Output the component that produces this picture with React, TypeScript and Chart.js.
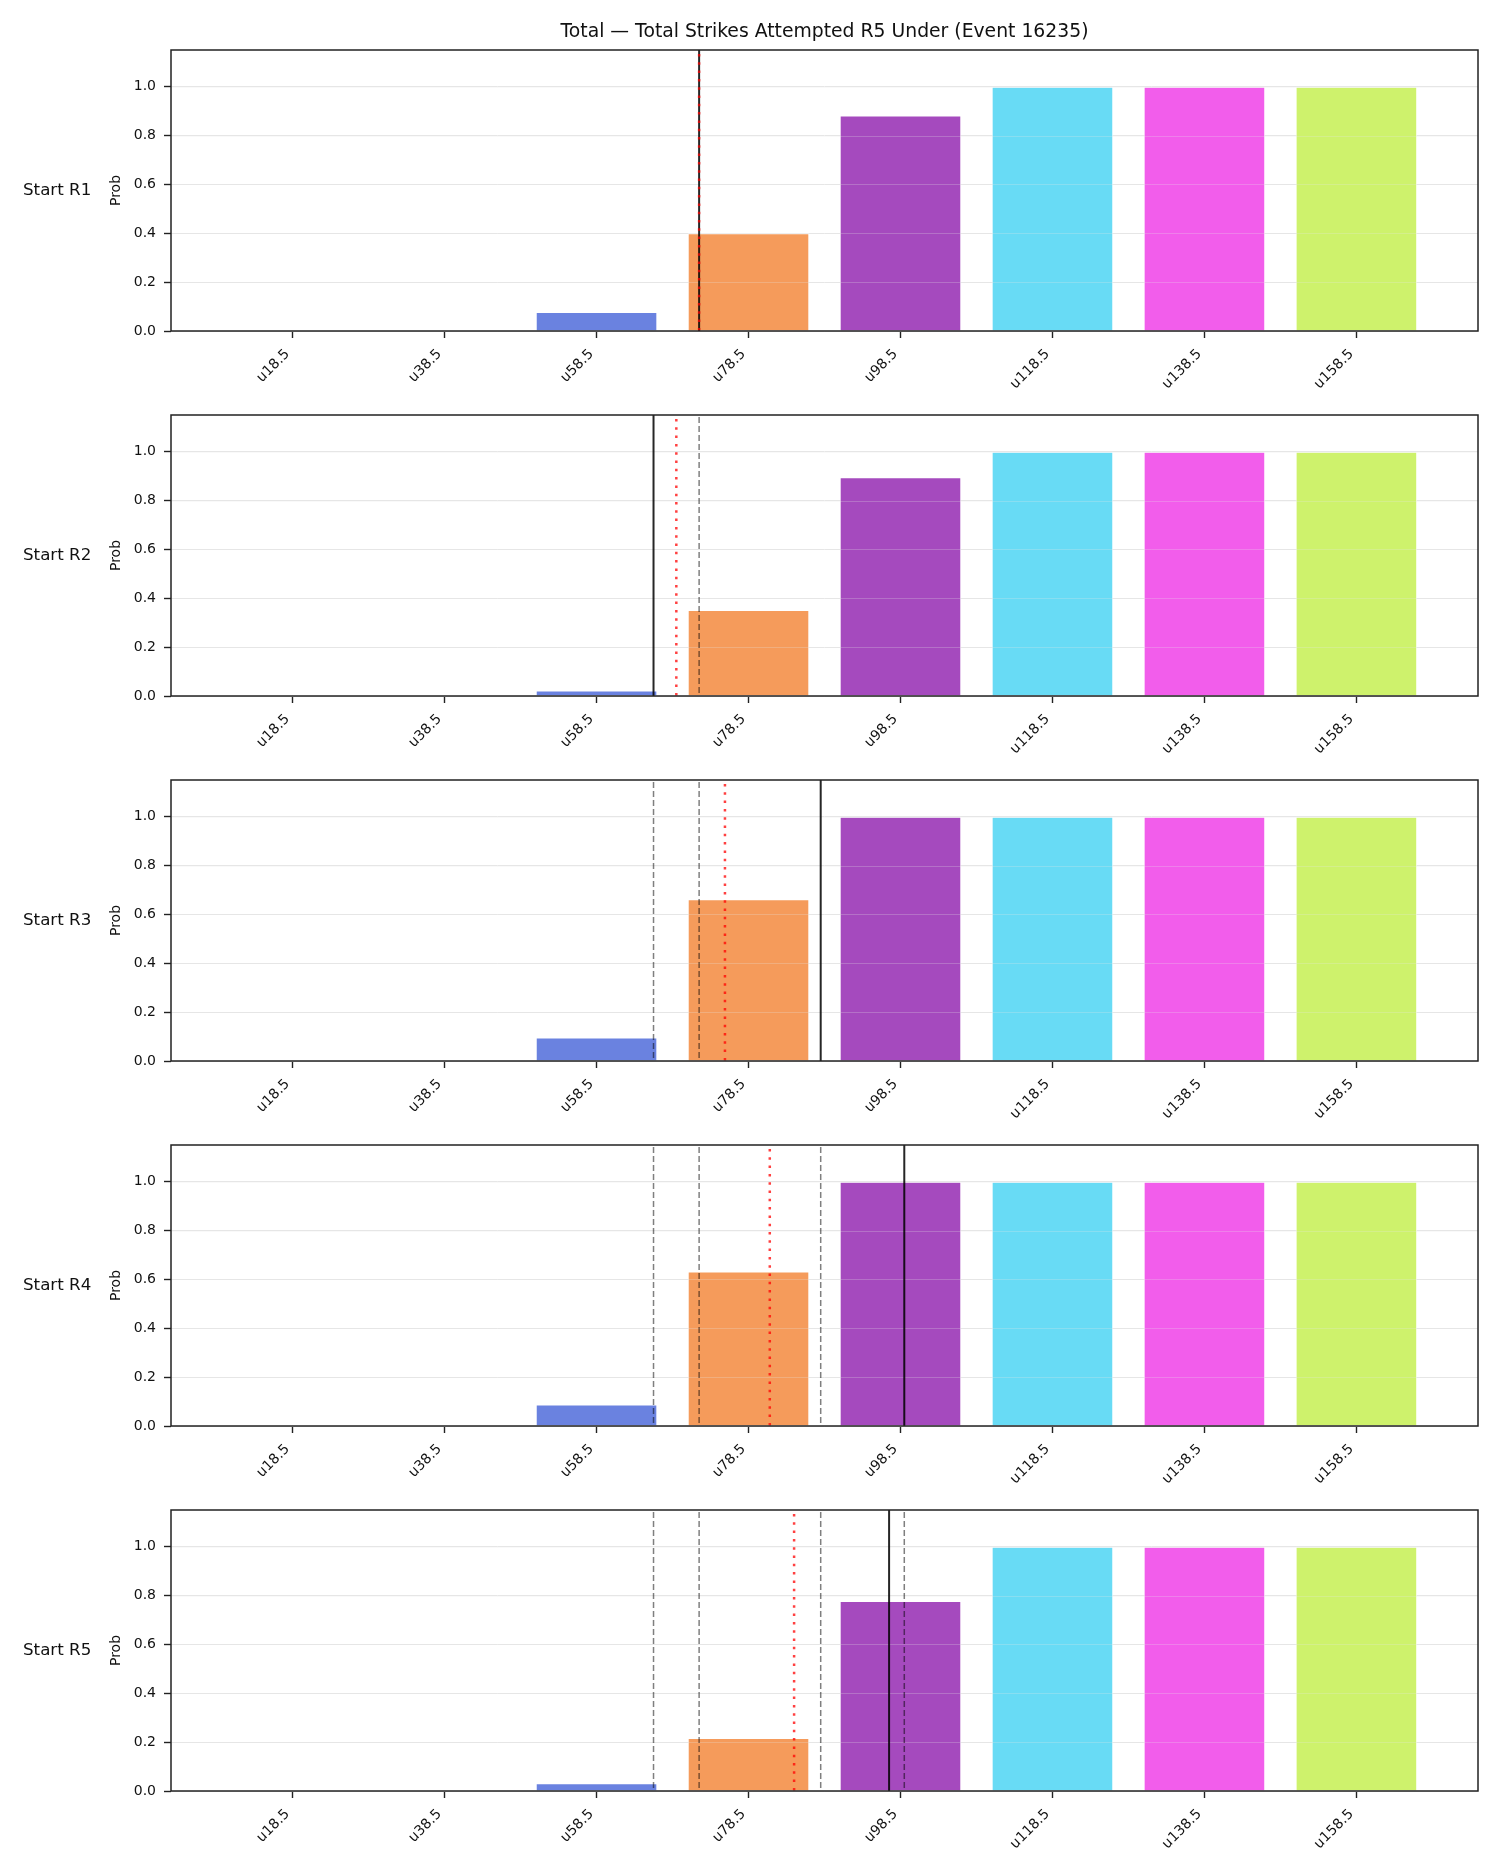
import React, { useEffect, useRef } from 'react';
import { Chart, registerables } from 'chart.js';

Chart.register(...registerables);

const TITLE = 'Total — Total Strikes Attempted R5 Under (Event 16235)';
const categories = ['u18.5', 'u38.5', 'u58.5', 'u78.5', 'u98.5', 'u118.5', 'u138.5', 'u158.5'];
const thresholds = [18.5, 38.5, 58.5, 78.5, 98.5, 118.5, 138.5, 158.5];
const rowLabels = ['Start R1', 'Start R2', 'Start R3', 'Start R4', 'Start R5'];
const barColors = ['#e06a6a', '#6ae0a0', '#6a82e0', '#f59b5b', '#a54abe', '#68dbf5', '#f25deb', '#cef26c'];

const probR1 = [0, 0, 0.078, 0.4, 0.882, 1.0, 1.0, 1.0];
const probR2 = [0, 0, 0.022, 0.352, 0.895, 1.0, 1.0, 1.0];
const probR3 = [0, 0.002, 0.096, 0.662, 1.0, 1.0, 1.0, 1.0];
const probR4 = [0, 0, 0.088, 0.632, 1.0, 1.0, 1.0, 1.0];
const probR5 = [0, 0, 0.032, 0.217, 0.778, 1.0, 1.0, 1.0];
const probs = [probR1, probR2, probR3, probR4, probR5];

// solid black line: actual total at that start round; red dotted: projection
const actualLine = [72.0, 66.0, 88.0, 99.0, 97.0];
const projLine = [72.0, 69.0, 75.4, 81.3, 84.5];

const yTicks = [0, 0.2, 0.4, 0.6, 0.8, 1.0];

const FONT = "'DejaVu Sans', sans-serif";
const CANVAS_H = 420;
const AREA_TOP = 45;
const AREA_H = 281;

function strikeToPos(v: number): number {
  const step = thresholds[1] - thresholds[0];
  return (v - thresholds[0]) / step;
}

function Panel({ idx }: { idx: number }) {
  const ref = useRef<HTMLCanvasElement | null>(null);
  useEffect(() => {
    if (!ref.current) return;
    const vals = probs[idx];
    const prevActual = actualLine.slice(0, idx);
    const overlay = {
      id: 'overlay' + idx,
      afterDatasetsDraw(chart: any) {
        const ctx = chart.ctx;
        const area = chart.chartArea;
        const xs = chart.scales.x;
        const ys = chart.scales.y;
        ctx.save();
        ctx.beginPath();
        ctx.rect(area.left, area.top, area.right - area.left, area.bottom - area.top);
        ctx.clip();
        // faint grid showing through bars
        ctx.strokeStyle = 'rgba(230,230,230,0.25)';
        ctx.lineWidth = 1;
        yTicks.forEach((t) => {
          if (t === 0) return;
          const y = Math.round(ys.getPixelForValue(t)) + 0.5;
          ctx.beginPath();
          ctx.moveTo(area.left, y);
          ctx.lineTo(area.right, y);
          ctx.stroke();
        });
        // solid black
        ctx.strokeStyle = 'rgba(0,0,0,0.85)';
        ctx.lineWidth = 2;
        ctx.setLineDash([]);
        let px = xs.getPixelForValue(strikeToPos(actualLine[idx]));
        ctx.beginPath();
        ctx.moveTo(px, area.top);
        ctx.lineTo(px, area.bottom);
        ctx.stroke();
        // red dotted
        ctx.strokeStyle = 'rgba(255,0,0,0.75)';
        ctx.lineWidth = 2.5;
        ctx.setLineDash([2.5, 5.8]);
        px = xs.getPixelForValue(strikeToPos(projLine[idx]));
        ctx.beginPath();
        ctx.moveTo(px, area.top + 4);
        ctx.lineTo(px, area.bottom);
        ctx.stroke();
        // gray dashed previous
        ctx.strokeStyle = 'rgba(0,0,0,0.5)';
        ctx.lineWidth = 1.5;
        ctx.setLineDash([6, 3]);
        prevActual.forEach((v) => {
          const p = xs.getPixelForValue(strikeToPos(v));
          ctx.beginPath();
          ctx.moveTo(p, area.top + 2);
          ctx.lineTo(p, area.bottom);
          ctx.stroke();
        });
        ctx.restore();
      },
      afterDraw(chart: any) {
        const ctx = chart.ctx;
        const area = chart.chartArea;
        const xs = chart.scales.x;
        ctx.save();
        // spines
        ctx.strokeStyle = '#222';
        ctx.lineWidth = 1.5;
        ctx.setLineDash([]);
        ctx.strokeRect(area.left, area.top, area.right - area.left, area.bottom - area.top);
        // x tick labels
        ctx.fillStyle = '#111';
        ctx.font = `14px ${FONT}`;
        ctx.textAlign = 'right';
        ctx.textBaseline = 'top';
        categories.forEach((c, i) => {
          const p = xs.getPixelForValue(i);
          ctx.save();
          ctx.translate(p - 10, area.bottom + 16);
          ctx.rotate(-Math.PI / 4);
          ctx.fillText(c, 0, 0);
          ctx.restore();
        });
        const cy = (area.top + area.bottom) / 2;
        // row label
        ctx.font = `16.7px ${FONT}`;
        ctx.textAlign = 'left';
        ctx.textBaseline = 'middle';
        ctx.fillText(rowLabels[idx], 23, cy);
        // Prob label
        ctx.save();
        ctx.translate(116, cy);
        ctx.rotate(-Math.PI / 2);
        ctx.font = `14px ${FONT}`;
        ctx.textAlign = 'center';
        ctx.textBaseline = 'middle';
        ctx.fillText('Prob', 0, 0);
        ctx.restore();
        // title
        if (idx === 0) {
          ctx.font = `18.8px ${FONT}`;
          ctx.textAlign = 'center';
          ctx.textBaseline = 'middle';
          ctx.fillText(TITLE, (area.left + area.right) / 2, 27);
        }
        ctx.restore();
      },
    };
    const chart = new Chart(ref.current, {
      type: 'bar',
      data: {
        datasets: [
          {
            data: vals.map((v, i) => ({ x: i, y: v })),
            backgroundColor: barColors,
            borderColor: 'rgba(255,255,255,0.8)',
            borderWidth: 1,
            borderSkipped: 'start',
            barPercentage: 0.8,
            categoryPercentage: 1.0,
          } as any,
        ],
      },
      options: {
        responsive: false,
        animation: false,
        devicePixelRatio: 1,
        layout: { padding: { top: AREA_TOP, right: 22, left: 0, bottom: 0 } },
        plugins: {
          legend: { display: false },
          tooltip: { enabled: false },
          title: { display: false },
        },
        scales: {
          x: {
            type: 'linear',
            min: -0.8,
            max: 7.8,
            offset: false,
            afterBuildTicks: (s: any) => {
              s.ticks = categories.map((_, i) => ({ value: i }));
            },
            afterFit: (s: any) => {
              s.height = CANVAS_H - AREA_TOP - AREA_H;
            },
            ticks: { display: false },
            grid: {
              offset: false,
              drawOnChartArea: false,
              drawTicks: true,
              tickLength: 7,
              tickColor: '#222',
              tickWidth: 1.4,
            },
            border: { display: false },
          },
          y: {
            type: 'linear',
            min: 0,
            max: 1.15,
            afterBuildTicks: (s: any) => {
              s.ticks = yTicks.map((v) => ({ value: v }));
            },
            afterFit: (s: any) => {
              s.width = 171;
            },
            ticks: {
              callback: (v: any) => Number(v).toFixed(1),
              font: { family: FONT, size: 14 },
              color: '#111',
              padding: 8,
            },
            grid: {
              color: '#e6e6e6',
              lineWidth: 1,
              tickColor: '#222',
              tickLength: 7,
              tickWidth: 1.4,
            },
            border: { display: false },
          },
        } as any,
      },
      plugins: [overlay],
    });
    return () => chart.destroy();
  }, [idx]);
  return (
    <canvas
      ref={ref}
      width={1500}
      height={CANVAS_H}
      style={{ position: 'absolute', left: 0, top: 5 + 365 * idx, width: 1500, height: CANVAS_H }}
    />
  );
}

export default function App() {
  return (
    <div style={{ position: 'absolute', left: 0, top: 0, width: 1500, height: 1875, background: '#fff' }}>
      {rowLabels.map((_, i) => (
        <Panel key={i} idx={i} />
      ))}
    </div>
  );
}
